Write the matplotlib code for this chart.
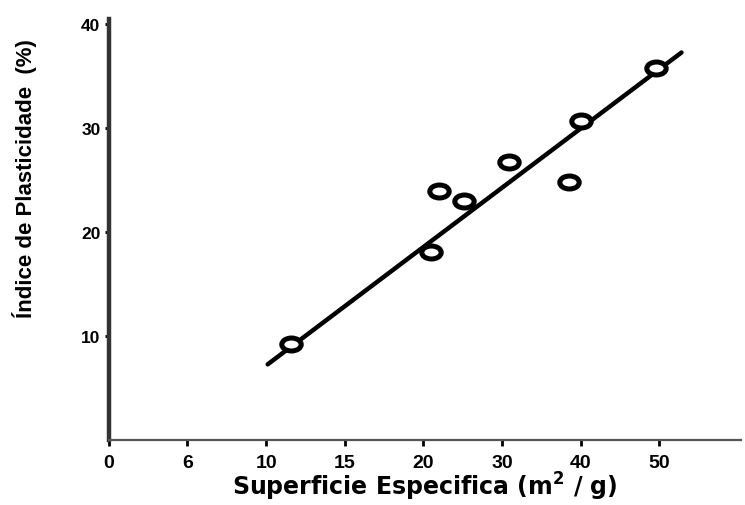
import numpy as np
import matplotlib.pyplot as plt
from matplotlib.path import Path
from matplotlib.transforms import Affine2D

# Ticks do eixo x (espaçamento igual no gráfico original)
x_ticks = [0, 6, 10, 15, 20, 30, 40, 50, 60, 70]
x_labels = ["0", "6", "10", "15", "20", "30", "40", "50"]
y_ticks = [10, 20, 30, 40]

# Pontos medidos
superficie = [11.6, 21.0, 22.0, 25.2, 30.9, 38.5, 40.0, 49.5]
plasticidade = [9.3, 18.1, 24.0, 23.0, 26.8, 24.8, 30.7, 35.8]

# Reta de ajuste (extremos)
reta_x = [10.1, 52.8]
reta_y = [7.3, 37.3]

idx = np.arange(len(x_ticks))


def fwd(x):
    return np.interp(x, x_ticks, idx)


def inv(i):
    return np.interp(i, idx, x_ticks)


plt.rcParams['font.family'] = ['Liberation Sans', 'DejaVu Sans']

fig = plt.figure(figsize=(7.45, 5.06), dpi=100)
ax = fig.add_axes([0.146, 0.128, 0.849, 0.832])
ax.set_xscale('function', functions=(fwd, inv))

# marcador elíptico
elipse = Path.unit_circle().transformed(Affine2D().scale(1.5, 1.0))

ax.plot(reta_x, reta_y, color='black', linewidth=3.2, solid_capstyle='round', zorder=2)
ax.plot(superficie, plasticidade, linestyle='none', marker=elipse, markersize=14,
        markerfacecolor='white', markeredgecolor='black', markeredgewidth=3.6, zorder=3)

ax.set_xlim(0, 60.4)
ax.set_ylim(0, 40.5)
ax.set_xticks(x_ticks[:len(x_labels)])
ax.set_xticklabels(x_labels)
ax.set_yticks(y_ticks)
ax.xaxis.set_minor_locator(plt.NullLocator())

for s in ['top', 'right']:
    ax.spines[s].set_visible(False)
ax.spines['left'].set_linewidth(3.2)
ax.spines['left'].set_color('#333333')
ax.spines['bottom'].set_linewidth(1.6)
ax.spines['bottom'].set_color('#555555')

ax.tick_params(axis='x', direction='out', length=4, width=2, pad=6,
               labelsize=14, colors='black')
ax.tick_params(axis='y', direction='out', length=3, width=2, pad=3,
               labelsize=12.5, colors='black')
for lab in ax.get_xticklabels() + ax.get_yticklabels():
    lab.set_fontweight('bold')

ax.set_xlabel("Superficie Especifica (m$^\\mathbf{2}$ / g)", fontsize=17,
              fontweight='bold', family=['DejaVu Sans'], labelpad=-1)
ax.set_ylabel("Índice de Plasticidade  (%)", fontsize=16, fontweight='bold')
ax.yaxis.set_label_coords(-0.114, 0.625)

fig.savefig("out.png", dpi=100)
